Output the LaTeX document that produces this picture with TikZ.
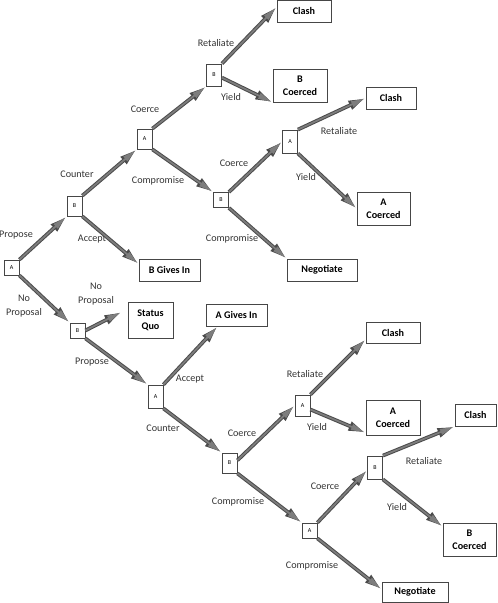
\documentclass[tikz,border=0pt]{standalone}
\usepackage{fontspec}
\setmainfont{Carlito}
\usetikzlibrary{arrows.meta}
\definecolor{arrgray}{RGB}{125,125,125}
\definecolor{arrdark}{RGB}{75,75,75}
\definecolor{edgegray}{RGB}{70,70,70}
\tikzset{
  x=0.75pt, y=-0.75pt,
  dec/.style={draw=edgegray, line width=0.6pt, fill=white, inner sep=0pt, minimum width=11.25pt, font=\fontsize{4.5}{5}\selectfont},
  outc/.style={draw=edgegray, line width=0.6pt, fill=white, inner sep=0pt, align=center, font=\fontsize{7.6}{10}\selectfont\bfseries},
  lab/.style={inner sep=0pt, align=center, text=black!80, font=\fontsize{7.6}{10}\selectfont},
  arr/.style={
    preaction={draw=arrdark, line width=2.8pt, -{Triangle[length=12pt,width=6.5pt]}},
    draw=arrgray, line width=1.3pt, shorten >=0.9pt, -{Triangle[length=10.2pt,width=4.4pt]}},
}
\begin{document}
\begin{tikzpicture}
\useasboundingbox (0,0) rectangle (497,603);
% decision nodes
\node[dec, minimum height=11.25pt] (a0) at (11.5,267.5) {A};
\node[dec, minimum height=15pt] (b1) at (74.5,206) {B};
\node[dec, minimum height=15pt] (a1) at (144.5,139) {A};
\node[dec, minimum height=16.5pt] (b3) at (214,75) {B};
\node[dec, minimum height=11.25pt] (b4) at (221,200) {B};
\node[dec, minimum height=17.25pt] (a2) at (290,141.5) {A};
\node[dec, minimum height=11.25pt] (b2) at (77.5,330.5) {B};
\node[dec, minimum height=17.25pt] (a3) at (155.5,396.5) {A};
\node[dec, minimum height=15pt] (b5) at (229.5,463) {B};
\node[dec, minimum height=15.75pt] (a4) at (302.5,405.5) {A};
\node[dec, minimum height=11.25pt] (a5) at (309.5,530.5) {A};
\node[dec, minimum height=17.25pt] (b6) at (375,467.5) {B};
% outcomes
\node[outc, minimum width=40.5pt, minimum height=16.5pt] (clash1) at (304,11) {Clash};
\node[outc, minimum width=40.5pt, minimum height=24.75pt] (bco1) at (300,85.5) {B\\Coerced};
\node[outc, minimum width=37.5pt, minimum height=16.5pt] (clash2) at (391,98) {Clash};
\node[outc, minimum width=39.75pt, minimum height=24.75pt] (aco1) at (383.5,208.5) {A\\Coerced};
\node[outc, minimum width=52.5pt, minimum height=16.5pt] (neg1) at (322,270) {Negotiate};
\node[outc, minimum width=45.75pt, minimum height=16.5pt] (bgi) at (169.5,270) {B Gives In};
\node[outc, minimum width=33.75pt, minimum height=27pt] (sq) at (150.5,320) {Status\\Quo};
\node[outc, minimum width=45.75pt, minimum height=16.5pt] (agi) at (236.5,315) {A Gives In};
\node[outc, minimum width=40.5pt, minimum height=15.75pt] (clash3) at (393,332.5) {Clash};
\node[outc, minimum width=40.5pt, minimum height=26.25pt] (aco2) at (393,417.5) {A\\Coerced};
\node[outc, minimum width=30.75pt, minimum height=16.5pt] (clash4) at (475.5,415) {Clash};
\node[outc, minimum width=39.75pt, minimum height=24.75pt] (bco2) at (469.5,539.5) {B\\Coerced};
\node[outc, minimum width=49.5pt, minimum height=15pt] (neg2) at (415,592) {Negotiate};
% labels
\node[lab] (l1) at (16,235) {Propose};
\node[lab] (l2) at (24,306) {No\\Proposal};
\node[lab] (l3) at (77,174) {Counter};
\node[lab] (l4) at (92,239) {Accept};
\node[lab] (l5) at (145,109) {Coerce};
\node[lab] (l6) at (158,181) {Compromise};
\node[lab] (l7) at (216,43) {Retaliate};
\node[lab] (l8) at (231,97) {Yield};
\node[lab] (l9) at (234,163) {Coerce};
\node[lab] (l10) at (232,239) {Compromise};
\node[lab] (l11) at (339,131) {Retaliate};
\node[lab] (l12) at (306,177) {Yield};
\node[lab] (l13) at (96,294) {No\\Proposal};
\node[lab] (l14) at (92,362) {Propose};
\node[lab] (l15) at (190,379) {Accept};
\node[lab] (l16) at (163,428) {Counter};
\node[lab] (l17) at (242,433) {Coerce};
\node[lab] (l18) at (238,502) {Compromise};
\node[lab] (l19) at (305,374) {Retaliate};
\node[lab] (l20) at (317,427) {Yield};
\node[lab] (l21) at (325,486) {Coerce};
\node[lab] (l22) at (424,461) {Retaliate};
\node[lab] (l23) at (397,507) {Yield};
\node[lab] (l24) at (312,566) {Compromise};
% arrows
\draw[arr] (a0.north east) -- (b1.south west);
\draw[arr] (a0.south east) -- (b2.north west);
\draw[arr] (b1.north east) -- (a1.south west);
\draw[arr] (b1.south east) -- ([yshift=-4pt]bgi.north west);
\draw[arr] (a1.north east) -- (b3.south west);
\draw[arr] (a1.south east) -- (b4.north west);
\draw[arr] (b3.north east) -- ([yshift=3pt]clash1.west);
\draw[arr] ([yshift=-2pt]b3.east) -- (bco1.south west);
\draw[arr] (b4.north east) -- (a2.west);
\draw[arr] (b4.south east) -- (neg1.north west);
\draw[arr] (a2.north east) -- (clash2.west);
\draw[arr] (a2.south east) -- (aco1.west);
\draw[arr] (b2.east) -- ([xshift=-4.5pt,yshift=6pt]sq.west);
\draw[arr] (b2.south east) -- (a3.north west);
\draw[arr] (a3.north east) -- ([xshift=9pt]agi.south west);
\draw[arr] (a3.south east) -- (b5.north west);
\draw[arr] ([yshift=2pt]b5.east) -- (a4.west);
\draw[arr] (b5.south east) -- (a5.north west);
\draw[arr] (a4.north east) -- ([yshift=3pt]clash3.south west);
\draw[arr] ([yshift=-3pt]a4.east) -- ([yshift=2pt]aco2.south west);
\draw[arr] (a5.north east) -- ([yshift=-2pt]b6.west);
\draw[arr] (a5.south east) -- ([yshift=2pt]neg2.west);
\draw[arr] (b6.north east) -- (clash4.south west);
\draw[arr] (b6.south east) -- ([yshift=-3pt]bco2.north west);
\end{tikzpicture}
\end{document}
